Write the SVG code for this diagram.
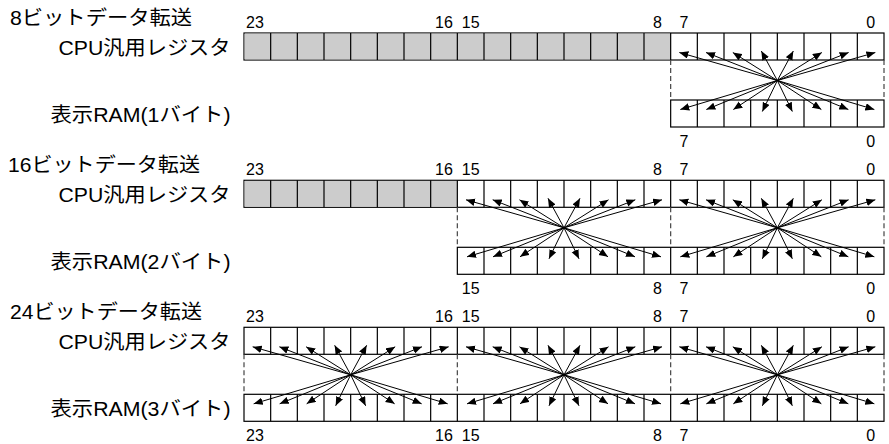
<svg xmlns="http://www.w3.org/2000/svg" xmlns:xlink="http://www.w3.org/1999/xlink" width="889" height="444" viewBox="0 0 889 444">
<style>
text{font-family:"Liberation Sans","Noto Sans CJK JP",sans-serif;fill:#000}
.title{font-size:20px}
.lbl{font-size:20px;text-anchor:end}
.bit{font-size:16px;text-anchor:middle}
.row{fill:#fff;stroke:#000;stroke-width:1.2}
.gray{fill:#cccccc;stroke:none}
.div{fill:none;stroke:#000;stroke-width:1.2}
.dash{stroke:#444;stroke-width:1.2;stroke-dasharray:5 3}
.arr{stroke:#000;stroke-width:1;fill:none;marker-end:url(#ah)}
</style>
<defs>
<marker id="ah" markerUnits="userSpaceOnUse" markerWidth="10" markerHeight="8" refX="9" refY="3.75" orient="auto">
<path d="M0,0 L9,3.75 L0,7.5 z" fill="#000"/>
</marker>
<g id="fan">
<line class="arr" x1="0" y1="0" x2="-98" y2="-28"/>
<line class="arr" x1="0" y1="0" x2="-71.3" y2="-28"/>
<line class="arr" x1="0" y1="0" x2="-44.5" y2="-28"/>
<line class="arr" x1="0" y1="0" x2="-16" y2="-29.5"/>
<line class="arr" x1="0" y1="0" x2="16" y2="-29.5"/>
<line class="arr" x1="0" y1="0" x2="44.5" y2="-28"/>
<line class="arr" x1="0" y1="0" x2="71.3" y2="-28"/>
<line class="arr" x1="0" y1="0" x2="98" y2="-28"/>
<line class="arr" x1="0" y1="0" x2="-97" y2="29"/>
<line class="arr" x1="0" y1="0" x2="-71" y2="29"/>
<line class="arr" x1="0" y1="0" x2="-44" y2="29"/>
<line class="arr" x1="0" y1="0" x2="-15" y2="31"/>
<line class="arr" x1="0" y1="0" x2="15" y2="31"/>
<line class="arr" x1="0" y1="0" x2="44" y2="29"/>
<line class="arr" x1="0" y1="0" x2="71" y2="29"/>
<line class="arr" x1="0" y1="0" x2="97" y2="29"/>
</g>
</defs>

<!-- Section 1: 8-bit -->
<g id="title8"><text class="title" x="10" y="25" textLength="182" lengthAdjust="spacingAndGlyphs">8ビットデータ転送</text></g>
<g id="reg8">
<text class="lbl" x="230.5" y="54.5" textLength="172" lengthAdjust="spacingAndGlyphs">CPU汎用レジスタ</text>
<rect class="row" x="244" y="33" width="640" height="27"/>
<rect class="gray" x="244.6" y="33.6" width="426.067" height="25.8"/>
<path class="div" d="M270.667,33v27M297.333,33v27M324,33v27M350.667,33v27M377.333,33v27M404,33v27M430.667,33v27M457.333,33v27M484,33v27M510.667,33v27M537.333,33v27M564,33v27M590.667,33v27M617.333,33v27M644,33v27M670.667,33v27M697.333,33v27M724,33v27M750.667,33v27M777.333,33v27M804,33v27M830.667,33v27M857.333,33v27"/>
<text class="bit" x="255" y="28">23</text>
<text class="bit" x="444" y="28">16</text>
<text class="bit" x="470.667" y="28">15</text>
<text class="bit" x="657.333" y="28">8</text>
<text class="bit" x="684" y="28">7</text>
<text class="bit" x="870.667" y="28">0</text>
</g>
<g id="ram8">
<text class="lbl" x="230.5" y="121.5" textLength="180" lengthAdjust="spacingAndGlyphs">表示RAM(1バイト)</text>
<rect class="row" x="670.667" y="100" width="213.333" height="27"/>
<path class="div" d="M697.333,100v27M724,100v27M750.667,100v27M777.333,100v27M804,100v27M830.667,100v27M857.333,100v27"/>
<text class="bit" x="684" y="146.5">7</text>
<text class="bit" x="870.667" y="146.5">0</text>
</g>

<!-- Section 2: 16-bit -->
<g id="title16"><text class="title" x="8" y="172.2" textLength="192" lengthAdjust="spacingAndGlyphs">16ビットデータ転送</text></g>
<g id="reg16">
<text class="lbl" x="230.5" y="201.8" textLength="172" lengthAdjust="spacingAndGlyphs">CPU汎用レジスタ</text>
<rect class="row" x="244" y="180.3" width="640" height="27"/>
<rect class="gray" x="244.6" y="180.9" width="212.733" height="25.8"/>
<path class="div" d="M270.667,180.3v27M297.333,180.3v27M324,180.3v27M350.667,180.3v27M377.333,180.3v27M404,180.3v27M430.667,180.3v27M457.333,180.3v27M484,180.3v27M510.667,180.3v27M537.333,180.3v27M564,180.3v27M590.667,180.3v27M617.333,180.3v27M644,180.3v27M670.667,180.3v27M697.333,180.3v27M724,180.3v27M750.667,180.3v27M777.333,180.3v27M804,180.3v27M830.667,180.3v27M857.333,180.3v27"/>
<text class="bit" x="255" y="175.3">23</text>
<text class="bit" x="444" y="175.3">16</text>
<text class="bit" x="470.667" y="175.3">15</text>
<text class="bit" x="657.333" y="175.3">8</text>
<text class="bit" x="684" y="175.3">7</text>
<text class="bit" x="870.667" y="175.3">0</text>
</g>
<g id="ram16">
<text class="lbl" x="230.5" y="268.8" textLength="180" lengthAdjust="spacingAndGlyphs">表示RAM(2バイト)</text>
<rect class="row" x="457.333" y="247.3" width="426.667" height="27"/>
<path class="div" d="M484,247.3v27M510.667,247.3v27M537.333,247.3v27M564,247.3v27M590.667,247.3v27M617.333,247.3v27M644,247.3v27M670.667,247.3v27M697.333,247.3v27M724,247.3v27M750.667,247.3v27M777.333,247.3v27M804,247.3v27M830.667,247.3v27M857.333,247.3v27"/>
<text class="bit" x="470.667" y="293.8">15</text>
<text class="bit" x="657.333" y="293.8">8</text>
<text class="bit" x="684" y="293.8">7</text>
<text class="bit" x="870.667" y="293.8">0</text>
</g>

<!-- Section 3: 24-bit -->
<g id="title24"><text class="title" x="10" y="318.5" textLength="192" lengthAdjust="spacingAndGlyphs">24ビットデータ転送</text></g>
<g id="reg24">
<text class="lbl" x="230.5" y="348.8" textLength="172" lengthAdjust="spacingAndGlyphs">CPU汎用レジスタ</text>
<rect class="row" x="244" y="327.3" width="640" height="27"/>
<path class="div" d="M270.667,327.3v27M297.333,327.3v27M324,327.3v27M350.667,327.3v27M377.333,327.3v27M404,327.3v27M430.667,327.3v27M457.333,327.3v27M484,327.3v27M510.667,327.3v27M537.333,327.3v27M564,327.3v27M590.667,327.3v27M617.333,327.3v27M644,327.3v27M670.667,327.3v27M697.333,327.3v27M724,327.3v27M750.667,327.3v27M777.333,327.3v27M804,327.3v27M830.667,327.3v27M857.333,327.3v27"/>
<text class="bit" x="255" y="322.3">23</text>
<text class="bit" x="444" y="322.3">16</text>
<text class="bit" x="470.667" y="322.3">15</text>
<text class="bit" x="657.333" y="322.3">8</text>
<text class="bit" x="684" y="322.3">7</text>
<text class="bit" x="870.667" y="322.3">0</text>
</g>
<g id="ram24">
<text class="lbl" x="230.5" y="415.8" textLength="180" lengthAdjust="spacingAndGlyphs">表示RAM(3バイト)</text>
<rect class="row" x="244" y="394.3" width="640" height="27"/>
<path class="div" d="M270.667,394.3v27M297.333,394.3v27M324,394.3v27M350.667,394.3v27M377.333,394.3v27M404,394.3v27M430.667,394.3v27M457.333,394.3v27M484,394.3v27M510.667,394.3v27M537.333,394.3v27M564,394.3v27M590.667,394.3v27M617.333,394.3v27M644,394.3v27M670.667,394.3v27M697.333,394.3v27M724,394.3v27M750.667,394.3v27M777.333,394.3v27M804,394.3v27M830.667,394.3v27M857.333,394.3v27"/>
<text class="bit" x="255" y="440.8">23</text>
<text class="bit" x="444" y="440.8">16</text>
<text class="bit" x="470.667" y="440.8">15</text>
<text class="bit" x="657.333" y="440.8">8</text>
<text class="bit" x="684" y="440.8">7</text>
<text class="bit" x="870.667" y="440.8">0</text>
</g>

<g id="connectors">
<line class="dash" x1="670.667" y1="60" x2="670.667" y2="100"/>
<line class="dash" x1="884" y1="60" x2="884" y2="100"/>
<use xlink:href="#fan" x="777.333" y="80.5"/>

<line class="dash" x1="457.333" y1="207.3" x2="457.333" y2="247.3"/>
<line class="dash" x1="670.667" y1="207.3" x2="670.667" y2="247.3"/>
<line class="dash" x1="884" y1="207.3" x2="884" y2="247.3"/>
<use xlink:href="#fan" x="564" y="227.8"/>
<use xlink:href="#fan" x="777.333" y="227.8"/>

<line class="dash" x1="244" y1="354.3" x2="244" y2="394.3"/>
<line class="dash" x1="457.333" y1="354.3" x2="457.333" y2="394.3"/>
<line class="dash" x1="670.667" y1="354.3" x2="670.667" y2="394.3"/>
<line class="dash" x1="884" y1="354.3" x2="884" y2="394.3"/>
<use xlink:href="#fan" x="350.667" y="374.8"/>
<use xlink:href="#fan" x="564" y="374.8"/>
<use xlink:href="#fan" x="777.333" y="374.8"/>
</g>
</svg>
